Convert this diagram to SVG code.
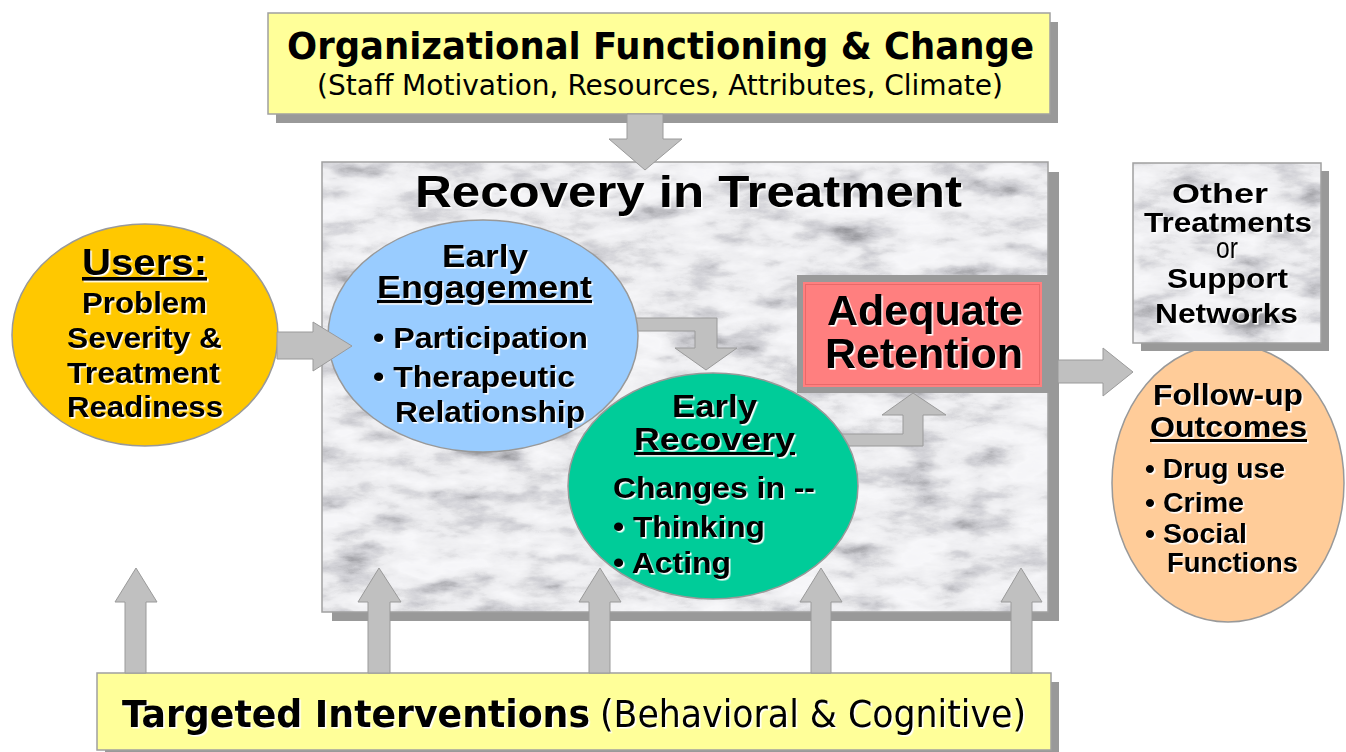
<svg xmlns="http://www.w3.org/2000/svg" width="1346" height="752" viewBox="0 0 1346 752">
<style>
.sh{fill:#999999}
.ybox{fill:#FFFF99;stroke:#A0A0A0;stroke-width:1.5}
.marble{filter:url(#marble)}
.mstroke{fill:none;stroke:#A0A0A0;stroke-width:1.5}
.ell{stroke:#999999;stroke-width:1.5}
.arr{fill:#C0C0C0;stroke:#9A9A9A;stroke-width:1}
text{font-family:"Liberation Sans",Arial,sans-serif;font-weight:bold;fill:#000}
.t{filter:url(#ts)}
.tah{font-family:"DejaVu Sans Condensed","DejaVu Sans",sans-serif}
.n{font-weight:normal}
.u{text-decoration:underline}
</style>
<defs>
<filter id="ts" x="-5%" y="-20%" width="110%" height="140%" color-interpolation-filters="sRGB">
<feDropShadow dx="1.6" dy="1.6" stdDeviation="0" flood-color="#FFFFFF" flood-opacity="1"/>
</filter>
<filter id="marble" x="0" y="0" width="1" height="1" color-interpolation-filters="sRGB">
<feTurbulence type="fractalNoise" baseFrequency="0.018 0.045" numOctaves="6" seed="11" result="t"/>
<feColorMatrix in="t" type="matrix" values="0.33 0.33 0.33 0 0  0.33 0.33 0.33 0 0  0.33 0.33 0.33 0 0  0 0 0 0 1" result="g"/>
<feComponentTransfer in="g" result="m">
<feFuncR type="table" tableValues="0.3 0.42 0.6 0.8 0.93 0.97 0.96 0.9 0.8"/>
<feFuncG type="table" tableValues="0.3 0.42 0.6 0.8 0.93 0.97 0.96 0.9 0.8"/>
<feFuncB type="table" tableValues="0.32 0.44 0.62 0.82 0.94 0.98 0.97 0.91 0.82"/>
</feComponentTransfer>
<feComposite in="m" in2="SourceGraphic" operator="in"/>
</filter>
</defs>

<!-- main container -->
<g id="recovery-in-treatment">
<rect class="sh" x="332" y="172" width="727" height="449"/>
<rect class="marble" x="322" y="162" width="726" height="450" fill="#fff"/>
<rect class="mstroke" x="322" y="162" width="726" height="450"/>
<text x="415" y="207" font-size="44" textLength="547" lengthAdjust="spacingAndGlyphs" class="t">Recovery in Treatment</text>
</g>

<g id="organizational-functioning">
<rect class="sh" x="276" y="22" width="782" height="101"/>
<rect class="ybox" x="268" y="13" width="782" height="101"/>
<text class="tah" x="287" y="59" font-size="38" textLength="747" lengthAdjust="spacingAndGlyphs">Organizational Functioning &amp; Change</text>
<text class="tah n" x="317" y="95" font-size="29" textLength="686" lengthAdjust="spacingAndGlyphs">(Staff Motivation, Resources, Attributes, Climate)</text>
</g>

<g id="targeted-interventions">
<rect class="sh" x="105" y="682" width="954" height="77"/>
<rect class="ybox" x="97" y="673" width="954" height="77"/>
<text class="tah t" x="122" y="727" font-size="37" textLength="468" lengthAdjust="spacingAndGlyphs">Targeted Interventions</text>
<text class="tah n t" x="600" y="727" font-size="37" textLength="426" lengthAdjust="spacingAndGlyphs">(Behavioral &amp; Cognitive)</text>
</g>

<g id="connectors">
<!-- org -> recovery -->
<path class="arr" d="M627 114 L663 114 L663 139 L682 139 L645 170 L609 139 L627 139 Z"/>
<!-- early engagement -> early recovery -->
<path class="arr" d="M620 318 L717 318 L717 348 L737 348 L706 370 L675 348 L695 348 L695 331 L620 331 Z"/>
<!-- early recovery -> adequate retention -->
<path class="arr" d="M830 434 L903 434 L903 415 L882 415 L913 393 L946 415 L923 415 L923 446 L830 446 Z"/>
<!-- recovery -> follow-up -->
<path class="arr" d="M1058 360 L1103 360 L1103 348 L1133 372 L1103 396 L1103 383 L1058 383 Z"/>
<!-- targeted interventions up arrows -->
<path class="arr" d="M125 673 L125 602 L115 602 L136 568 L157 602 L146 602 L146 673 Z"/>
<path class="arr" d="M368 673 L368 602 L358 602 L379 568 L401 602 L390 602 L390 673 Z"/>
<path class="arr" d="M589 673 L589 602 L579 602 L600 568 L621 602 L610 602 L610 673 Z"/>
<path class="arr" d="M811 673 L811 602 L800 602 L821 568 L842 602 L831 602 L831 673 Z"/>
<path class="arr" d="M1011 673 L1011 602 L1001 602 L1021 568 L1042 602 L1032 602 L1032 673 Z"/>
</g>

<g id="adequate-retention">
<rect x="797" y="275" width="261" height="118" fill="#999999"/>
<rect x="803" y="282" width="239" height="105" fill="#FF7F7F"/>
<rect x="805.5" y="284.5" width="234" height="100" fill="none" stroke="#E86A6A" stroke-width="1"/>
<text x="827" y="325" font-size="42" textLength="196" lengthAdjust="spacingAndGlyphs" class="t">Adequate</text>
<text x="825" y="368" font-size="42" textLength="198" lengthAdjust="spacingAndGlyphs" class="t">Retention</text>
</g>

<g id="users">
<ellipse class="ell" cx="145" cy="335" rx="133" ry="111" fill="#FFC800"/>
<text x="82" y="275" font-size="36" textLength="125" lengthAdjust="spacingAndGlyphs" class="t u">Users:</text>
<text x="82" y="313" font-size="29" textLength="125" lengthAdjust="spacingAndGlyphs" class="t">Problem</text>
<text x="67" y="348" font-size="29" textLength="155" lengthAdjust="spacingAndGlyphs" class="t">Severity &amp;</text>
<text x="67" y="383" font-size="29" textLength="153" lengthAdjust="spacingAndGlyphs" class="t">Treatment</text>
<text x="67" y="417" font-size="29" textLength="156" lengthAdjust="spacingAndGlyphs" class="t">Readiness</text>
</g>

<g id="early-engagement">
<ellipse class="ell" cx="483" cy="336" rx="155" ry="116" fill="#99CCFF"/>
<text x="442" y="267" font-size="31" textLength="86" lengthAdjust="spacingAndGlyphs" class="t">Early</text>
<text x="377" y="298" font-size="31" textLength="215" lengthAdjust="spacingAndGlyphs" class="t u">Engagement</text>
<text x="373" y="348" font-size="30" textLength="215" lengthAdjust="spacingAndGlyphs" class="t">• Participation</text>
<text x="373" y="387" font-size="30" textLength="202" lengthAdjust="spacingAndGlyphs" class="t">• Therapeutic</text>
<text x="395" y="422" font-size="30" textLength="190" lengthAdjust="spacingAndGlyphs" class="t">Relationship</text>
</g>

<g id="users-arrow">
<path class="arr" d="M277 332 L313 332 L313 322 L352 346 L313 371 L313 359 L277 359 Z"/>
</g>

<g id="early-recovery">
<ellipse class="ell" cx="713" cy="486" rx="145" ry="113" fill="#00CC99"/>
<text x="672" y="417" font-size="31" textLength="85" lengthAdjust="spacingAndGlyphs" class="t">Early</text>
<text x="634" y="450" font-size="31" textLength="161" lengthAdjust="spacingAndGlyphs" class="t u">Recovery</text>
<text x="613" y="498" font-size="30" textLength="202" lengthAdjust="spacingAndGlyphs" class="t">Changes in --</text>
<text x="613" y="537" font-size="30" textLength="152" lengthAdjust="spacingAndGlyphs" class="t">• Thinking</text>
<text x="613" y="573" font-size="30" textLength="118" lengthAdjust="spacingAndGlyphs" class="t">• Acting</text>
</g>

<g id="follow-up-outcomes">
<ellipse class="ell" cx="1228" cy="483" rx="116" ry="139" fill="#FFCC99"/>
<text x="1153" y="405" font-size="30" textLength="150" lengthAdjust="spacingAndGlyphs" class="t">Follow-up</text>
<text x="1150" y="437" font-size="30" textLength="157" lengthAdjust="spacingAndGlyphs" class="t u">Outcomes</text>
<text x="1145" y="478" font-size="27" textLength="140" lengthAdjust="spacingAndGlyphs" class="t">• Drug use</text>
<text x="1145" y="512" font-size="27" textLength="99" lengthAdjust="spacingAndGlyphs" class="t">• Crime</text>
<text x="1145" y="543" font-size="27" textLength="102" lengthAdjust="spacingAndGlyphs" class="t">• Social</text>
<text x="1167" y="572" font-size="27" textLength="131" lengthAdjust="spacingAndGlyphs" class="t">Functions</text>
</g>

<g id="other-treatments">
<rect class="sh" x="1141" y="171" width="188" height="180"/>
<rect class="marble" x="1133" y="163" width="188" height="180" fill="#fff"/>
<rect class="mstroke" x="1133" y="163" width="188" height="180"/>
<text x="1172" y="203" font-size="28" textLength="96" lengthAdjust="spacingAndGlyphs" class="t">Other</text>
<text x="1144" y="232" font-size="28" textLength="168" lengthAdjust="spacingAndGlyphs" class="t">Treatments</text>
<text x="1216" y="258" font-size="29" textLength="22" lengthAdjust="spacingAndGlyphs" class="t n">or</text>
<text x="1167" y="288" font-size="28" textLength="121" lengthAdjust="spacingAndGlyphs" class="t">Support</text>
<text x="1155" y="323" font-size="28" textLength="143" lengthAdjust="spacingAndGlyphs" class="t">Networks</text>
</g>
</svg>
